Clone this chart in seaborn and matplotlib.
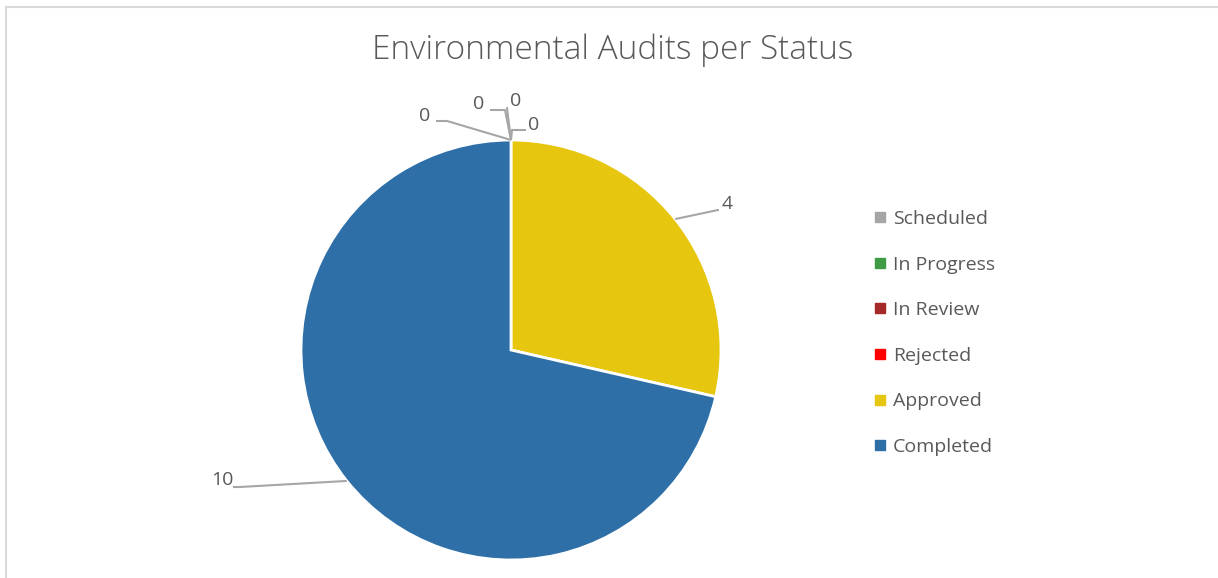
import numpy as np
import seaborn as sns
import matplotlib.pyplot as plt
from matplotlib.lines import Line2D
from matplotlib.patches import Rectangle

statuses = ['Scheduled', 'In Progress', 'In Review', 'Rejected', 'Approved', 'Completed']
counts = [0, 0, 0, 0, 4, 10]
colors = ['#A5A5A5', '#3E9A45', '#A52A2A', '#FF0000', '#E6C60E', '#2E6FA7']

# label text positions and elbow points (pixels, top-left origin)
label_pos = [(425, 116), (479, 104), (516, 101), (534, 125), (727, 204), (222, 480)]
elbow_pos = [(447, 121), (505, 110), (507, 108), (512, 130), (718, 210), (240, 487)]

W, H = 1218, 578
sns.set_theme(style='white')
plt.rcParams['font.family'] = ['Open Sans', 'DejaVu Sans']

fig = plt.figure(figsize=(W / 100, H / 100), dpi=100)
ax = fig.add_axes([0, 0, 1, 1])
ax.set_xlim(0, W)
ax.set_ylim(0, H)
ax.axis('off')

cx, cy, r = 511, H - 350, 210
wedges, _ = ax.pie(counts, colors=colors, startangle=90, counterclock=False,
                   center=(cx, cy), radius=r,
                   wedgeprops=dict(edgecolor='white', linewidth=2))
ax.set_xlim(0, W)
ax.set_ylim(0, H)
ax.set_aspect('equal')

grey = '#A6A6A6'
txt = '#595959'
for w, v, lp, ep in zip(wedges, counts, label_pos, elbow_pos):
    mid = np.deg2rad((w.theta1 + w.theta2) / 2)
    ax_pt = (cx + r * np.cos(mid), cy + r * np.sin(mid))
    ex, ey = ep[0], H - ep[1]
    lx, ly = lp[0], H - lp[1]
    end_x = lx + 11 if lx < ax_pt[0] else lx - 8
    ax.plot([ax_pt[0], ex, end_x], [ax_pt[1], ey, ey], color=grey, lw=1.5,
            solid_capstyle='butt', zorder=1)
    ax.text(lx, ly, str(v), ha='center', va='center', fontsize=14, color=txt)

fig.text(613 / W, 1 - 50 / H, 'Environmental Audits per Status', ha='center',
         va='center', fontsize=24, color=txt, fontweight='light')

handles = [Line2D([], [], marker='s', linestyle='', markersize=7,
                  markerfacecolor=c, markeredgecolor=c) for c in colors]
fig.legend(handles, statuses, loc='center left', bbox_to_anchor=(857 / W, 1 - 333 / H),
           frameon=False, fontsize=14, labelcolor=txt, handlelength=0.6,
           handletextpad=0.35, labelspacing=1.42)

fig.add_artist(Rectangle((6 / W, -0.1), 1.2, 1 - 7 / H + 0.1, transform=fig.transFigure,
                         fill=False, edgecolor='#D9D9D9', lw=1.5))

fig.savefig('out.png', dpi=100)
